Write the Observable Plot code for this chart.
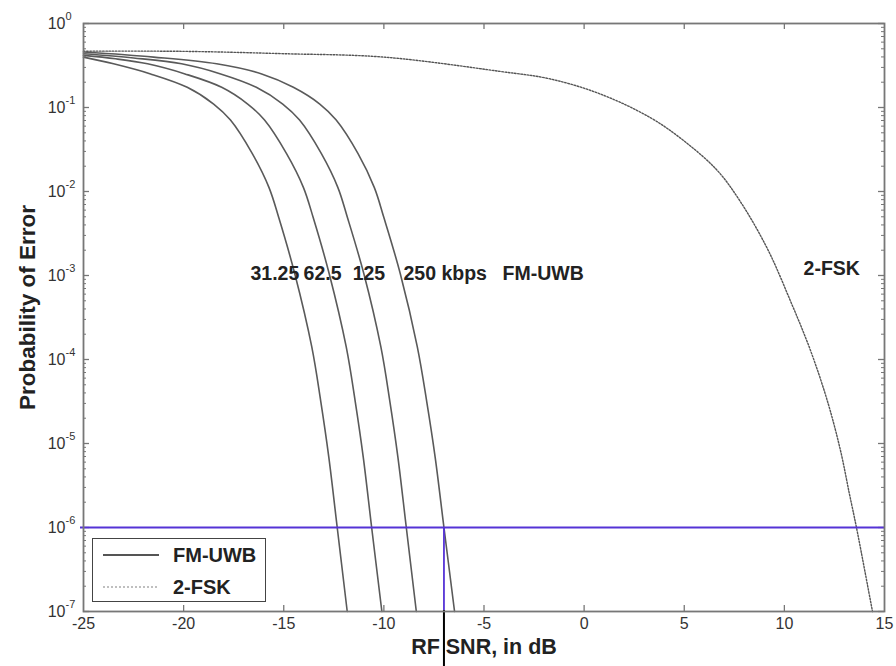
<!DOCTYPE html>
<html>
<head>
<meta charset="utf-8">
<script src="https://cdn.jsdelivr.net/npm/d3@7"></script>
<script src="https://cdn.jsdelivr.net/npm/@observablehq/plot@0.6"></script>
<style>
  html, body { margin: 0; padding: 0; background: #fff; }
  #wrap { position: relative; width: 896px; height: 666px; font-family: "Liberation Sans", Arial, sans-serif; }
  #legend { position: absolute; left: 92px; top: 538px; width: 172px; height: 62px; border: 1.5px solid #444; background: #fff; }
  #legend .lbl { position: absolute; left: 80px; font-weight: bold; font-size: 20px; line-height: 22px; color: #222; }
</style>
</head>
<body>
<div id="wrap"></div>
<script>
// ---- data ----
const xTicks = [-25, -20, -15, -10, -5, 0, 5, 10, 15];
const yExponents = [0, -1, -2, -3, -4, -5, -6, -7];

const snr_31_25 = [-25, -23.5, -21.65, -19.82, -18.5, -17.66, -16.57, -15.74, -15.25, -14.45, -13.6, -13.15, -12.75, -12.33, -11.83];
const pe_31_25  = [0.398, 0.331, 0.251, 0.174, 0.110, 0.0708, 0.0282, 0.0112, 0.0049, 0.00105, 1.41e-4, 3.16e-5, 6.9e-6, 1e-6, 1e-7];

const snr_62_5 = [-25, -23.4, -21.8, -19.93, -18.1, -16.8, -15.96, -14.86, -14.02, -13.53, -12.73, -11.88, -11.43, -11.03, -10.61, -10.1];
const pe_62_5  = [0.417, 0.380, 0.331, 0.251, 0.174, 0.110, 0.0708, 0.0282, 0.0112, 0.0049, 0.00105, 1.41e-4, 3.16e-5, 6.9e-6, 1e-6, 1e-7];

const snr_125 = [-25, -22.5, -20.1, -18.15, -16.37, -15.05, -14.21, -13.12, -12.3, -11.82, -11.0, -10.15, -9.7, -9.3, -8.88, -8.38];
const pe_125  = [0.437, 0.389, 0.331, 0.251, 0.174, 0.110, 0.0708, 0.0282, 0.0112, 0.0049, 0.00105, 1.41e-4, 3.16e-5, 6.9e-6, 1e-6, 1e-7];

const snr_250 = [-25, -21.5, -18.35, -16.1, -14.52, -13.2, -12.38, -11.29, -10.48, -10.0, -9.18, -8.33, -7.86, -7.44, -7.0, -6.47];
const pe_250  = [0.457, 0.398, 0.331, 0.251, 0.174, 0.110, 0.0708, 0.0282, 0.0112, 0.0049, 0.00105, 1.41e-4, 3.16e-5, 6.9e-6, 1e-6, 1e-7];

const snr_2fsk = [-25, -20, -15, -10, -4.2, -1.7, 0.8, 3.3, 5.0, 6.65, 7.8, 9.15, 10.3, 11.3, 12.15, 12.8, 13.25, 13.6, 14.4];
const pe_2fsk  = [0.468, 0.466, 0.437, 0.398, 0.269, 0.219, 0.145, 0.0759, 0.0398, 0.0178, 0.00759, 0.00209, 5.0e-4, 1.29e-4, 3.2e-5, 8.3e-6, 2.5e-6, 1e-6, 1e-7];

const targetPe = [1e-6];
const markedSnr = [-7];

const annoText = ["31.25", "62.5", "125", "250 kbps", "FM-UWB", "2-FSK"];
const annoX    = [-16.66, -14.01, -11.56, -9.02, -4.07, 10.96];
const annoY    = [1.05e-3, 1.05e-3, 1.05e-3, 1.05e-3, 1.05e-3, 1.2e-3];

const legendLabels = ["FM-UWB", "2-FSK"];

// ---- build tables ----
const toRows = (xs, ys, s) => xs.map((x, i) => ({x, y: ys[i], s}));
const uwb = [
  ...toRows(snr_31_25, pe_31_25, "31.25"),
  ...toRows(snr_62_5, pe_62_5, "62.5"),
  ...toRows(snr_125, pe_125, "125"),
  ...toRows(snr_250, pe_250, "250")
];
const fsk = toRows(snr_2fsk, pe_2fsk, "2-FSK");
const annos = annoText.map((t, i) => ({t, x: annoX[i], y: annoY[i]}));

const W = 896, H = 666, mL = 83, mR = 12, mT = 23, mB = 55;
const plotW = W - mL - mR, plotH = H - mT - mB;
const yMinor = [];
for (let e = -7; e < 0; e++) for (let m = 2; m <= 9; m++) yMinor.push(m * Math.pow(10, e));
const yMajor = yExponents.map(e => Math.pow(10, e));

const axisColor = "#777";
const font = "Liberation Sans, Arial, sans-serif";

const chart = Plot.plot({
  width: W, height: H,
  marginLeft: mL, marginRight: mR, marginTop: mT, marginBottom: mB,
  style: {fontFamily: font, background: "white", overflow: "visible"},
  x: {domain: [-25, 15], axis: null},
  y: {type: "log", domain: [1e-7, 1], axis: null},
  marks: [
    // inward ticks
    Plot.ruleX(xTicks.slice(1, -1), {x: d => d, insetTop: plotH - 6, stroke: axisColor, strokeWidth: 1.3}),
    Plot.ruleX(xTicks.slice(1, -1), {x: d => d, insetBottom: plotH - 6, stroke: axisColor, strokeWidth: 1.3}),
    Plot.ruleY(yMajor, {y: d => d, insetRight: plotW - 6, stroke: axisColor, strokeWidth: 1.3}),
    Plot.ruleY(yMajor, {y: d => d, insetLeft: plotW - 6, stroke: axisColor, strokeWidth: 1.3}),
    Plot.ruleY(yMinor, {y: d => d, insetRight: plotW - 3, stroke: axisColor, strokeWidth: 1}),
    Plot.ruleY(yMinor, {y: d => d, insetLeft: plotW - 3, stroke: axisColor, strokeWidth: 1}),
    // curves
    Plot.line(fsk, {x: "x", y: "y", stroke: "#555", strokeWidth: 1.4, strokeDasharray: "1.6,1.6", curve: "catmull-rom"}),
    Plot.line(uwb, {x: "x", y: "y", z: "s", stroke: "#5a5a5a", strokeWidth: 1.6, curve: "catmull-rom"}),
    // blue markers
    Plot.ruleY(targetPe, {y: d => d, stroke: "#5533d6", strokeWidth: 1.8, insetLeft: -3}),
    Plot.ruleX(markedSnr, {x: d => d, y1: 1e-7, y2: 1e-6, stroke: "#5533d6", strokeWidth: 1.8}),
    Plot.ruleX(markedSnr, {x: d => d, y1: 1e-7, y2: 1e-7, insetTop: -1, insetBottom: -60, stroke: "#000", strokeWidth: 2}),
    // frame
    Plot.frame({stroke: axisColor, strokeWidth: 1.8}),
    // tick labels
    Plot.text(xTicks, {x: d => d, frameAnchor: "bottom", dy: 17, text: d => String(d), fontSize: 16, fill: "#333"}),
    Plot.text(yExponents, {y: d => Math.pow(10, d), frameAnchor: "left", dx: -18, text: () => "10", textAnchor: "end", fontSize: 16, fill: "#333"}),
    Plot.text(yExponents, {y: d => Math.pow(10, d), frameAnchor: "left", dx: -18, dy: -7, text: d => String(d), textAnchor: "start", fontSize: 11, fill: "#333"}),
    // axis titles
    Plot.text(["RF SNR, in dB"], {frameAnchor: "bottom", dy: 42, text: d => d, textAnchor: "middle", fontSize: 21.5, fontWeight: "bold", fill: "#222"}),
    Plot.text(["Probability of Error"], {frameAnchor: "left", dx: -56, dy: -10, rotate: -90, text: d => d, textAnchor: "middle", fontSize: 22.5, fontWeight: "bold", fill: "#222"}),
    // annotations
    Plot.text(annos, {x: "x", y: "y", text: "t", textAnchor: "start", fontSize: 19.5, fontWeight: "bold", fill: "#222"})
  ]
});

const wrap = document.getElementById("wrap");
wrap.appendChild(chart);

// legend
const legend = document.createElement("div");
legend.id = "legend";
legend.innerHTML = `
  <svg width="172" height="62" style="position:absolute;left:0;top:0">
    <line x1="10" x2="66" y1="16" y2="16" stroke="#555" stroke-width="1.8"/>
    <line x1="10" x2="66" y1="48" y2="48" stroke="#aaa" stroke-width="1.4" stroke-dasharray="2,2"/>
  </svg>
  <div class="lbl" style="top:5px">${legendLabels[0]}</div>
  <div class="lbl" style="top:37px">${legendLabels[1]}</div>`;
wrap.appendChild(legend);
</script>
</body>
</html>
